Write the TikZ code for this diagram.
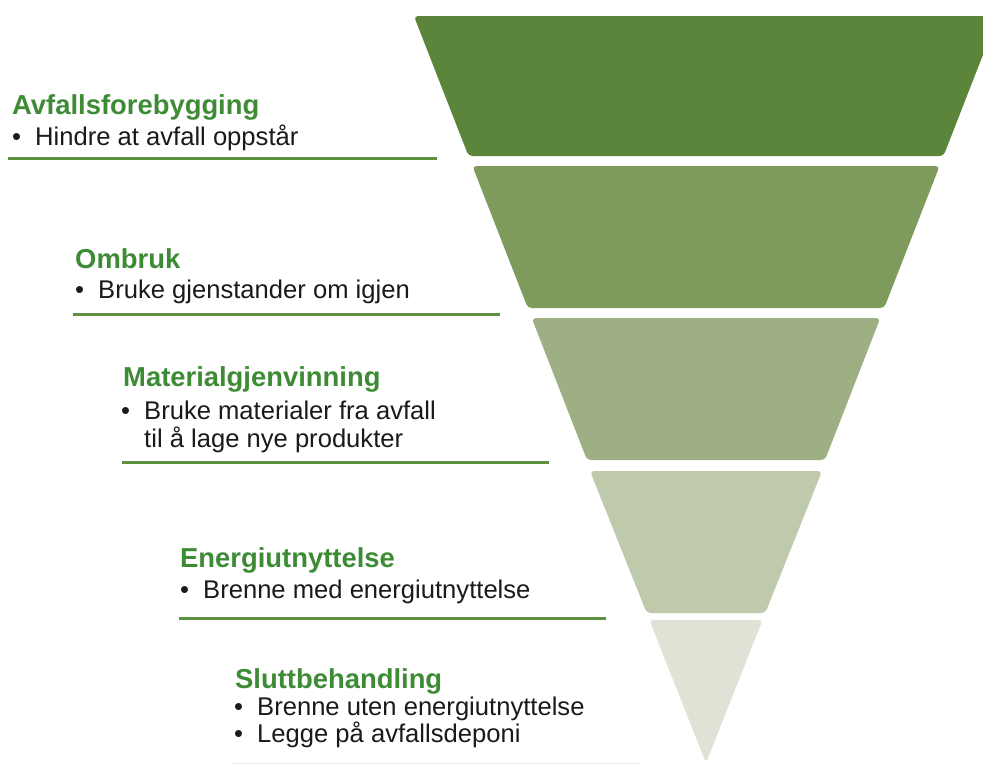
\documentclass[tikz,border=0pt]{standalone}
\usepackage{fontspec}
\setmainfont{Liberation Sans}
\definecolor{tA}{HTML}{5A853B}
\definecolor{tB}{HTML}{7E9A5C}
\definecolor{tC}{HTML}{9EB083}
\definecolor{tD}{HTML}{BFC9AB}
\definecolor{tE}{HTML}{DEE3D5}
\definecolor{ttl}{HTML}{3E8B36}
\definecolor{rul}{HTML}{5C9140}
\definecolor{bodyc}{HTML}{1A1A1A}
\tikzset{
  band/.style={rounded corners=4pt, draw=none},
  ttlbox/.style={anchor=base west, inner sep=0pt, text=ttl, font=\fontsize{27.4}{32}\selectfont\bfseries},
  bodybox/.style={anchor=base west, inner sep=0pt, text=bodyc, font=\fontsize{25.6}{30}\selectfont},
  rulebar/.style={draw=rul, line width=3pt},
}
\newcommand{\bul}{\makebox[23pt][l]{•}}
\begin{document}
\begin{tikzpicture}[x=1pt,y=-1pt]
\useasboundingbox[fill=white] (0,0) rectangle (983,764);
% funnel bands
\fill[tA, band] (413.9,16) -- (998.1,16) -- (943.5,156) -- (468.5,156) -- cycle;
\fill[tB, band] (472.4,166) -- (939.6,166) -- (884.2,308) -- (527.8,308) -- cycle;
\fill[tC, band] (531.7,318) -- (880.3,318) -- (825,460) -- (587,460) -- cycle;
\fill[tD, band] (590,471) -- (822,471) -- (765.3,613) -- (646.7,613) -- cycle;
\fill[tE, band] (649.4,620) -- (762.6,620) -- (706,763) -- cycle;
% labels
\node[ttlbox] (t1) at (12,114) {Avfallsforebygging};
\node[bodybox] (b1) at (12,145) {\bul Hindre at avfall oppstår};
\coordinate (l1a) at (8,158); \coordinate (l1b) at (437,158);
\draw[rulebar] (l1a) -- (l1b);

\node[ttlbox] (t2) at (75,268) {Ombruk};
\node[bodybox] (b2) at (75,298) {\bul Bruke gjenstander om igjen};
\coordinate (l2a) at (73,314); \coordinate (l2b) at (500,314);
\draw[rulebar] (l2a) -- (l2b);

\node[ttlbox] (t3) at (123,386) {Materialgjenvinning};
\node[bodybox] (b3) at (121,419) {\bul Bruke materialer fra avfall};
\node[bodybox] (b3b) at (144,447) {til å lage nye produkter};
\coordinate (l3a) at (122,462); \coordinate (l3b) at (549,462);
\draw[rulebar] (l3a) -- (l3b);

\node[ttlbox] (t4) at (180,567) {Energiutnyttelse};
\node[bodybox] (b4) at (180,598) {\bul Brenne med energiutnyttelse};
\coordinate (l4a) at (179,618); \coordinate (l4b) at (606,618);
\draw[rulebar] (l4a) -- (l4b);

\node[ttlbox] (t5) at (235,688) {Sluttbehandling};
\node[bodybox] (b5) at (234,715) {\bul Brenne uten energiutnyttelse};
\node[bodybox] (b5b) at (234,742) {\bul Legge på avfallsdeponi};
\coordinate (l5a) at (233,763); \coordinate (l5b) at (640,763);
\draw[draw=black!8, line width=1pt] (l5a) -- (l5b);
\end{tikzpicture}
\end{document}
